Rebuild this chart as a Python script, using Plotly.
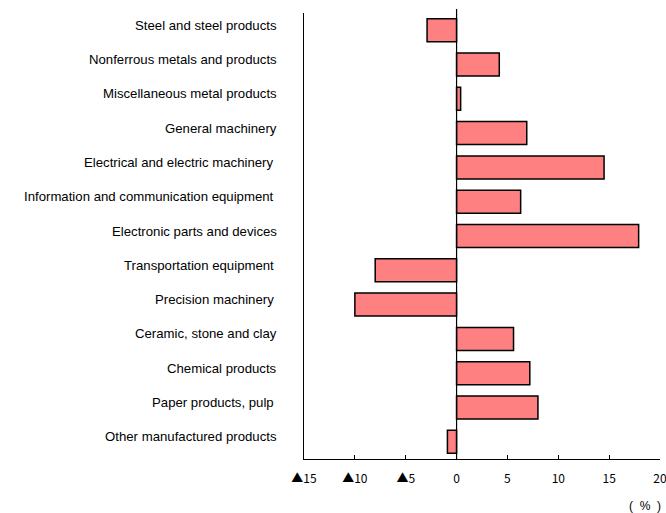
import plotly.graph_objects as go

# Year-on-year change by industry (%)
industries = [
    "Steel and steel products",
    "Nonferrous metals and products",
    "Miscellaneous metal products",
    "General machinery",
    "Electrical and electric machinery\u00a0",
    "Information and communication equipment\u00a0",
    "Electronic parts and devices",
    "Transportation equipment\u00a0",
    "Precision machinery\u00a0",
    "Ceramic, stone and clay",
    "Chemical products",
    "Paper products, pulp\u00a0",
    "Other manufactured products",
]
change_pct = [-2.9, 4.2, 0.4, 6.9, 14.5, 6.3, 17.9, -8.0, -10.0, 5.6, 7.2, 8.0, -0.9]

x_tick_vals = [-15, -10, -5, 0, 5, 10, 15, 20]
x_tick_text = ["▲15", "▲10", "▲5", "0", "5", "10", "15", "20"]

FONT = "Liberation Sans, Arial, sans-serif"
JP_FONT = "Noto Sans CJK JP, sans-serif"

fig = go.Figure(
    go.Bar(
        y=industries,
        x=change_pct,
        orientation="h",
        width=0.67,
        marker=dict(color="#FF8080", line=dict(color="#000000", width=1.5)),
        hoverinfo="x+y",
    )
)

# category names, set a little above each bar's centre
for name in industries:
    fig.add_annotation(
        text=name, xref="paper", yref="y",
        x=-0.071, y=name, xanchor="right", yanchor="middle",
        yshift=5, showarrow=False,
        font=dict(family=FONT, size=13.2, color="#000000"),
    )

# vertical zero line, running slightly above the plot area
fig.add_shape(
    type="line", xref="x", yref="paper",
    x0=0, x1=0, y0=0, y1=1.009,
    line=dict(color="#000000", width=1.2),
    layer="above",
)

fig.add_annotation(
    text="(\u00a0\u00a0%\u00a0\u00a0)", xref="paper", yref="paper",
    x=1.008, y=-0.105, xanchor="right", yanchor="middle",
    showarrow=False, font=dict(family=FONT, size=12, color="#000000"),
)

fig.update_layout(
    width=666, height=513,
    margin=dict(l=304, r=6, t=13, b=54, autoexpand=False),
    paper_bgcolor="white", plot_bgcolor="white",
    showlegend=False,
    font=dict(family=FONT, size=12, color="#000000"),
    bargap=0.33,
)

fig.update_xaxes(
    range=[-15, 20],
    tickvals=x_tick_vals, ticktext=x_tick_text,
    ticks="inside", ticklen=4, tickcolor="#000000", tickwidth=1,
    showline=True, linecolor="#000000", linewidth=1.2,
    showgrid=False, zeroline=False,
    ticklabelstandoff=8,
    ticklabeloverflow="allow",
    automargin=False,
    tickfont=dict(family=JP_FONT, size=12, color="#000000"),
)

fig.update_yaxes(
    type="category",
    categoryorder="array", categoryarray=industries,
    range=[12.5, -0.5],
    showline=True, linecolor="#000000", linewidth=1.2,
    ticks="", showgrid=False, zeroline=False,
    showticklabels=False,
    automargin=False,
)

fig.write_html("out.html")
